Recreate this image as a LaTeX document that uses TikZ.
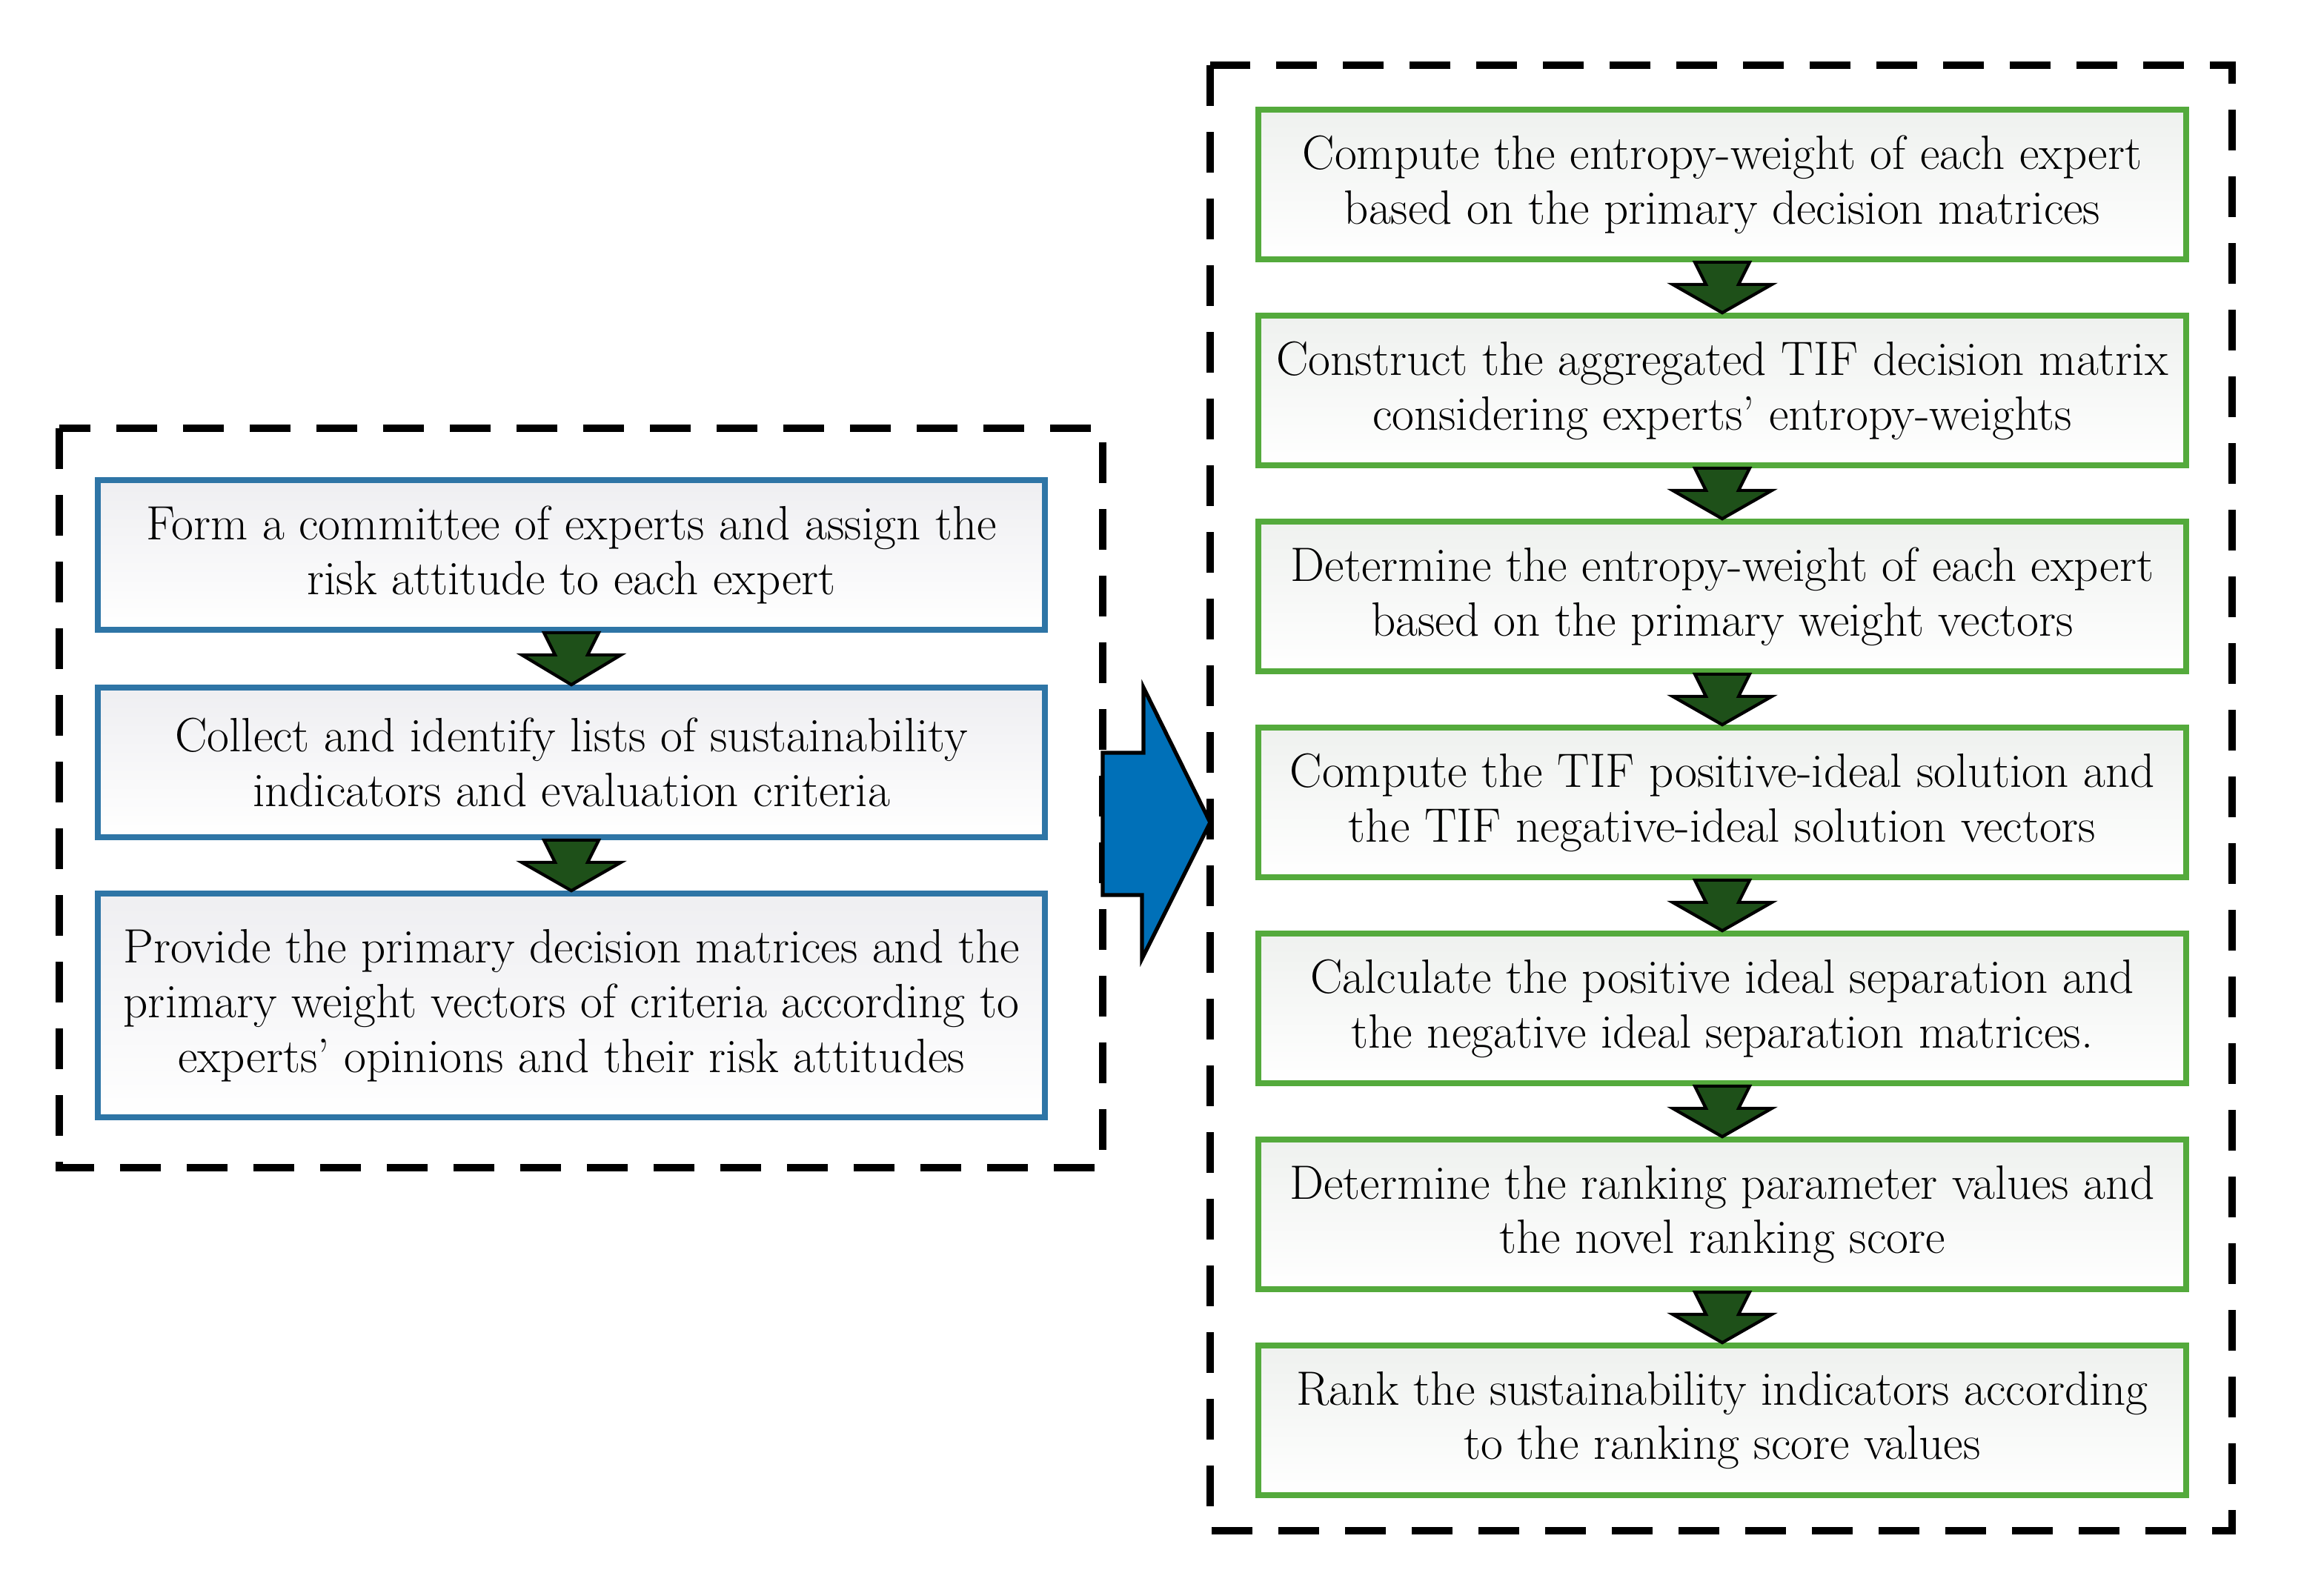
\documentclass[tikz,border=0pt]{standalone}
\usetikzlibrary{positioning,calc}
\definecolor{boxblue}{RGB}{46,117,166}
\definecolor{boxgreen}{RGB}{84,170,60}
\definecolor{arrowgreen}{RGB}{30,80,25}
\definecolor{bigblue}{RGB}{0,112,184}
\tikzset{
  stepL/.style={draw=boxblue, line width=2.2pt, top color=blue!10!gray!12, bottom color=white,
    minimum width=12.78cm, minimum height=2.02cm, align=center, inner sep=0pt,
    font=\fontsize{18.5}{21}\selectfont},
  stepR/.style={draw=boxgreen, line width=2.2pt, top color=green!8!gray!12, bottom color=white,
    minimum width=12.52cm, minimum height=2.02cm, align=center, inner sep=0pt,
    font=\fontsize{18.5}{21}\selectfont},
  frame/.style={draw, line width=3pt, dash pattern=on 0.55cm off 0.35cm},
}
% down arrow between two boxes
\newcommand{\steparrow}[2]{%
  \path (#1.south) coordinate (a1) (#2.north) coordinate (a2);
  \fill[arrowgreen, draw=black, line width=1.2pt]
    ($(a1)+(-0.37,0)$) -- ($(a1)+(0.37,0)$) -- ($(a1)+(0.22,0.3)$) -- ($(a1)+(0.67,0.3)$)
    -- (a2) -- ($(a1)+(-0.67,0.3)$) -- ($(a1)+(-0.22,0.3)$) -- cycle;}
\begin{document}
\begin{tikzpicture}[x=1cm,y=-1cm]
    \useasboundingbox (0,0) rectangle (31.36,21.45);

    % Frames
    \draw[frame] (0.8,5.78) rectangle (14.88,15.76);
    \draw[frame] (16.33,0.88) rectangle (30.12,20.66);

    % Left steps
    \node[stepL] (form) at (7.71,7.49) {Form a committee of experts and assign the\\risk attitude to each expert};
    \node[stepL] (collect) at (7.71,10.29) {Collect and identify lists of sustainability\\indicators and evaluation criteria};
    \node[stepL, minimum height=3.02cm] (provide) at (7.71,13.57) {Provide the primary decision matrices and the\\primary weight vectors of criteria according to\\experts' opinions and their risk attitudes};

    % Right steps
    \node[stepR] (entropy) at (23.24,2.49) {Compute the entropy-weight of each expert\\based on the primary decision matrices};
    \node[stepR] (aggregate) at (23.24,5.27) {Construct the aggregated TIF decision matrix\\considering experts' entropy-weights};
    \node[stepR] (weight) at (23.24,8.05) {Determine the entropy-weight of each expert\\based on the primary weight vectors};
    \node[stepR] (ideal) at (23.24,10.83) {Compute the TIF positive-ideal solution and\\the TIF negative-ideal solution vectors};
    \node[stepR] (separation) at (23.24,13.61) {Calculate the positive ideal separation and\\the negative ideal separation matrices.};
    \node[stepR] (parameter) at (23.24,16.39) {Determine the ranking parameter values and\\the novel ranking score};
    \node[stepR] (rank) at (23.24,19.17) {Rank the sustainability indicators according\\to the ranking score values};

    % Down arrows
    \steparrow{form}{collect}
    \steparrow{collect}{provide}
    \steparrow{entropy}{aggregate}
    \steparrow{aggregate}{weight}
    \steparrow{weight}{ideal}
    \steparrow{ideal}{separation}
    \steparrow{separation}{parameter}
    \steparrow{parameter}{rank}

    % Big arrow
    \filldraw[fill=bigblue, draw=black, line width=1.5pt]
      (14.88,10.16) -- (15.43,10.16) -- (15.43,9.28) -- (16.33,11.1)
      -- (15.41,12.94) -- (15.41,12.08) -- (14.88,12.08) -- cycle;
\end{tikzpicture}
\end{document}
